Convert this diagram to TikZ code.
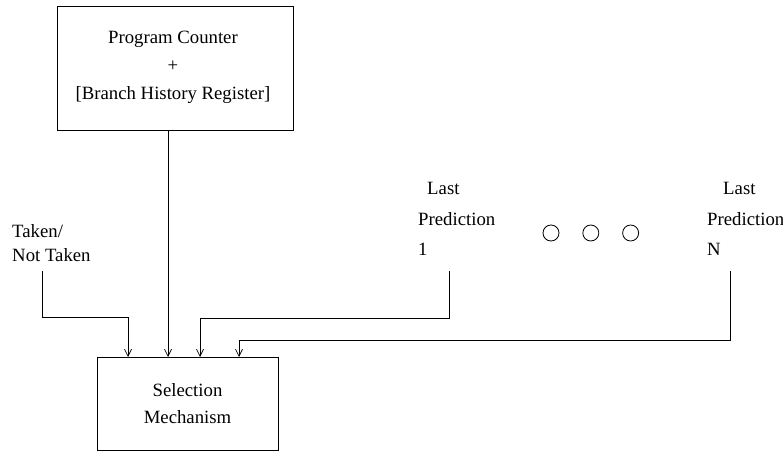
\documentclass[tikz,border=0pt]{standalone}
\usepackage{fontspec}
\setmainfont{Liberation Serif}
\usetikzlibrary{positioning}
\usetikzlibrary{arrows.meta}

\tikzset{
  blk/.style={draw,line width=0.7pt,inner sep=0pt},
  lbl/.style={font=\fontsize{16}{24}\selectfont,inner sep=0pt},
  dot/.style={draw,circle,line width=0.7pt,minimum size=0.48cm,inner sep=0pt},
  arr/.style={line width=0.6pt,-{Straight Barb[length=6pt,width=6pt]}}
}

\begin{document}
\begin{tikzpicture}[x=0.03cm,y=-0.03cm]
\useasboundingbox (0,0) rectangle (783,452);

% boxes
\node[blk,minimum width=7.08cm,minimum height=3.72cm] (pc) at (175,68) {};
\node[lbl,align=center] (pctxt) at (173,67) {Program Counter\\+\\{[Branch History Register]}};
\node[blk,minimum width=5.43cm,minimum height=2.79cm] (sel) at (187.5,403.5) {};
\node[lbl,align=center] (seltxt) at (sel) {Selection\\[-1pt]Mechanism};

% labels
\node[lbl,align=left,anchor=west] (taken) at (12,243) {Taken/\\[-3pt]Not Taken};
\node[lbl,align=left,anchor=west] (lp1) at (418,219) {\hspace*{0.27cm}Last\\[2pt]Prediction\\[2pt]1};
\node[lbl,align=left,anchor=west] (lpn) at (707,219) {\hspace*{0.48cm}Last\\[2pt]Prediction\\[2pt]N};

\node[dot] (c1) at (551,233) {};
\node[dot,right=0.69cm of c1] (c2) {};
\node[dot,right=0.69cm of c2] (c3) {};

% inputs of the selection box
\coordinate (in1) at (128,357);
\coordinate (in2) at (168,357);
\coordinate (in3) at (200,357);
\coordinate (in4) at (239,357);
\coordinate (t0) at (42,271);
\coordinate (p1) at (449,271);
\coordinate (pn) at (730,271);

\draw[arr] (t0) -- ++(0,46) -| (in1);
\draw[arr] (pc.south -| in2) -- (in2);
\draw[arr] (p1) -- ++(0,47) -| (in3);
\draw[arr] (pn) -- ++(0,69) -| (in4);

\end{tikzpicture}
\end{document}
